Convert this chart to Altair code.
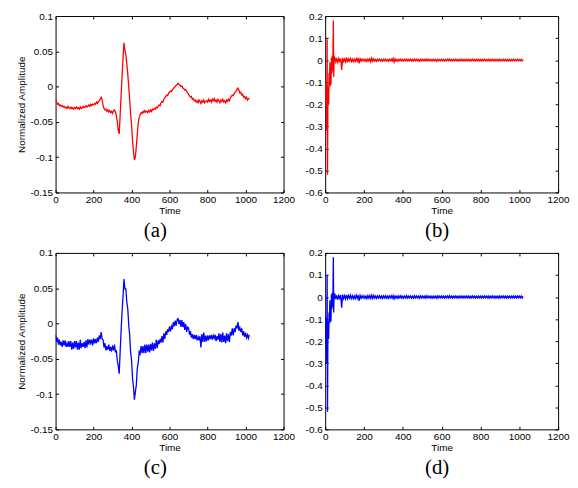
import altair as alt
import pandas as pd

# ---------------- data (amplitudes in thousandths) ----------------
time_ac = list(range(0, 1021, 5))

amp_a_milli = [
    -19, -22, -25, -24, -27, -26, -28, -27, -29, -28,
    -30, -29, -31, -28, -30, -31, -29, -31, -30, -32,
    -30, -31, -29, -31, -30, -32, -29, -31, -30, -28,
    -30, -29, -27, -29, -28, -26, -28, -25, -27, -25,
    -26, -24, -25, -22, -24, -21, -20, -18, -15, -19,
    -27, -31, -33, -32, -35, -33, -36, -34, -37, -35,
    -38, -34, -33, -36, -41, -50, -62, -67, -40, -12,
    15, 40, 62, 52, 45, 32, 18, 0, -18, -38,
    -55, -75, -92, -104, -100, -85, -68, -52, -44, -40,
    -37, -38, -35, -37, -34, -36, -35, -37, -34, -36,
    -33, -35, -32, -33, -31, -32, -29, -30, -28, -26,
    -27, -23, -21, -22, -18, -16, -14, -12, -13, -9,
    -8, -6, -7, -4, -3, -1, 0, 2, 3, 5,
    3, 2, 0, 1, -2, -3, -5, -4, -7, -9,
    -11, -13, -15, -14, -18, -17, -20, -19, -22, -20,
    -23, -19, -21, -24, -20, -22, -19, -23, -21, -20,
    -22, -18, -21, -19, -22, -18, -20, -17, -21, -19,
    -22, -18, -20, -23, -19, -21, -18, -22, -20, -23,
    -19, -21, -18, -20, -16, -14, -12, -13, -10, -8,
    -7, -4, -2, -5, -9, -8, -12, -11, -15, -14,
    -17, -15, -19, -17, -18,
]

amp_c_milli = [
    -16, -26, -20, -30, -23, -31, -26, -33, -24, -31,
    -24, -33, -28, -33, -25, -33, -25, -37, -27, -36,
    -25, -34, -25, -37, -27, -37, -23, -35, -28, -33,
    -26, -35, -24, -34, -22, -30, -23, -28, -23, -31,
    -21, -28, -22, -28, -20, -26, -17, -22, -12, -22,
    -23, -34, -28, -38, -32, -37, -30, -39, -33, -38,
    -33, -38, -30, -40, -39, -53, -60, -71, -39, -10,
    17, 38, 63, 49, 49, 30, 21, -2, -16, -41,
    -52, -77, -90, -108, -97, -87, -64, -55, -40, -43,
    -32, -42, -32, -42, -30, -42, -30, -40, -30, -41,
    -29, -38, -27, -39, -28, -36, -23, -35, -24, -29,
    -22, -27, -18, -27, -14, -22, -11, -16, -8, -12,
    -4, -11, -4, -8, 2, -4, 4, -3, 6, 7,
    -1, 5, -5, 5, -5, 2, -9, -1, -12, -5,
    -6, -16, -11, -20, -15, -22, -16, -22, -16, -24,
    -19, -24, -18, -34, -15, -26, -13, -26, -17, -25,
    -17, -24, -17, -22, -16, -23, -17, -21, -16, -25,
    -18, -23, -14, -26, -15, -27, -13, -26, -17, -28,
    -14, -25, -15, -26, -12, -17, -7, -17, -7, -12,
    -3, -7, 2, -10, -6, -12, -7, -17, -11, -19,
    -13, -20, -16, -21, -16,
]

time_bd = list(range(0, 50, 2)) + list(range(50, 1021, 5))

amp_b_milli = [
    -150, -100, -210, -120, -320, 95, -520, -190, -120, -200,
    -60, -115, -10, -120, -40, -110, 10, -60, 20, -50,
    15, 180, -75, 20, -5,
    12, -8, 6, -10, 8, -5, 7, -45, 10, -6,
    5, -8, 12, -10, 6, -4, 8, -6, 5, -7,
    4, -6, 7, -5, 10, -15, 6, -4, 5, -3,
    4, -5, 3, -6, 5, -4, 6, -8, 9, -5,
    6, -4, 3, -5, 4, -3, 5, -4, 3, -5,
    4, -3, 5, -4, 3, -5, 4, -3, 5, -4,
    8, -9, 6, -4, 3, -5, 4, -3, 5, -4,
    3, -4, 4, -3, 5, -4, 3, -3, 4, -4,
    3, -4, 5, -3, 4, -3, 3, -5, 4, -3,
    4, -3, 3, -4, 5, -3, 4, -3, 3, -4,
    3, -4, 4, -3, 3, -5, 4, -3, 3, -3,
    4, -3, 3, -4, 3, -3, 4, -3, 5, -3,
    3, -4, 3, -3, 4, -3, 3, -4, 3, -3,
    4, -3, 3, -4, 3, -3, 4, -3, 3, -4,
    3, -3, 4, -3, 3, -4, 3, -3, 4, -3,
    3, -4, 3, -3, 4, -3, 3, -3, 4, -4,
    3, -3, 4, -3, 3, -4, 3, -3, 3, -4,
    4, -3, 3, -3, 4, -3, 3, -4, 3, -3,
    3, -4, 3, -3, 4, -3, 3, -3, 4, -3,
    3, -3, 4, -3, 2,
]

amp_d_milli = [
    -170, -90, -200, -130, -300, 100, -520, -180, -110, -190,
    -70, -115, -15, -115, -35, -110, 12, -55, 18, -45,
    12, 180, -70, 18, -8,
    14, -10, 8, -12, 7, -6, 9, -48, 11, -7,
    6, -9, 10, -8, 7, -5, 9, -7, 6, -8,
    5, -7, 8, -6, 9, -18, 7, -5, 6, -4,
    5, -6, 4, -7, 6, -5, 7, -6, 8, -6,
    7, -5, 4, -6, 5, -4, 6, -5, 4, -6,
    5, -4, 6, -5, 4, -6, 5, -4, 6, -5,
    7, -8, 5, -5, 4, -6, 5, -4, 6, -5,
    4, -5, 5, -4, 6, -5, 4, -4, 5, -5,
    4, -5, 6, -4, 5, -4, 4, -6, 5, -4,
    5, -4, 4, -5, 6, -4, 5, -4, 4, -5,
    4, -5, 5, -4, 4, -6, 5, -4, 4, -4,
    5, -4, 4, -5, 4, -4, 5, -4, 6, -4,
    4, -5, 4, -4, 5, -4, 4, -5, 4, -4,
    5, -4, 4, -5, 4, -4, 5, -4, 4, -5,
    4, -4, 5, -4, 4, -5, 4, -4, 5, -4,
    4, -5, 4, -4, 5, -4, 4, -4, 5, -5,
    4, -4, 5, -4, 4, -5, 4, -4, 4, -5,
    5, -4, 4, -4, 5, -4, 4, -5, 4, -4,
    4, -5, 4, -4, 5, -4, 4, -4, 5, -4,
    4, -4, 5, -4, 3,
]

x_ticks = [0, 200, 400, 600, 800, 1000, 1200]
y_ticks_ac = [-0.15, -0.1, -0.05, 0, 0.05, 0.1]
y_ticks_bd = [-0.6, -0.5, -0.4, -0.3, -0.2, -0.1, 0, 0.1, 0.2]
captions = ["(a)", "(b)", "(c)", "(d)"]

SANS = "Liberation Sans"
SERIF = "Liberation Serif"
INWARD = {"expr": "-3"}


def panel(times, milli, color, yticks, ydomain, ytitle, caption, width, height):
    df = pd.DataFrame({"Time": times, "Amp": [v / 1000 for v in milli]})
    base = alt.Chart(df)
    xs = alt.Scale(domain=[0, 1200], nice=False, zero=False)
    ys = alt.Scale(domain=ydomain, nice=False, zero=False)
    main = base.mark_line(color=color, strokeWidth=1.3, clip=True).encode(
        x=alt.X("Time:Q", scale=xs, title="Time",
                axis=alt.Axis(orient="bottom", values=x_ticks, labelExpr="datum.value + ''",
                              tickSize=INWARD, labelPadding=5, titlePadding=1,
                              labelFlush=False, labelOverlap=False, domain=False)),
        y=alt.Y("Amp:Q", scale=ys, title=ytitle,
                axis=alt.Axis(orient="left", values=yticks, labelExpr="datum.value + ''",
                              tickSize=INWARD, labelPadding=6, titlePadding=4,
                              labelFlush=False, labelOverlap=False, domain=False)),
    )
    ghost = base.mark_line(opacity=0).encode(
        x=alt.X("Time:Q", scale=xs, title=None,
                axis=alt.Axis(orient="top", values=x_ticks, labels=False,
                              tickSize=INWARD, domain=False)),
        y=alt.Y("Amp:Q", scale=ys, title=None,
                axis=alt.Axis(orient="right", values=yticks, labels=False,
                              tickSize=INWARD, domain=False)),
    )
    return alt.layer(main, ghost).resolve_axis(x="independent", y="independent").properties(
        width=width, height=height,
        title=alt.TitleParams(caption, orient="bottom", anchor="middle", frame="bounds",
                              font=SERIF, fontSize=21, fontWeight="normal", color="black",
                              offset=5),
    )


H = 178
pa = panel(time_ac, amp_a_milli, "#ff0000", y_ticks_ac, [-0.15, 0.1], "Normalized Amplitude", captions[0], 230, H)
pb = panel(time_bd, amp_b_milli, "#ff0000", y_ticks_bd, [-0.6, 0.2], None, captions[1], 235, H)
pc = panel(time_ac, amp_c_milli, "#0000ff", y_ticks_ac, [-0.15, 0.1], "Normalized Amplitude", captions[2], 230, H)
pd_ = panel(time_bd, amp_d_milli, "#0000ff", y_ticks_bd, [-0.6, 0.2], None, captions[3], 235, H)

chart = alt.vconcat(
    alt.hconcat(pa, pb, spacing=9),
    alt.hconcat(pc, pd_, spacing=9),
    spacing=5,
).properties(
    padding={"left": 7, "top": 0, "right": 0, "bottom": 0},
    background="white",
).configure_view(
    stroke="black", strokeWidth=1, fill="white",
).configure_axis(
    labelFont=SANS, labelFontSize=10, labelColor="black",
    titleFont=SANS, titleFontSize=10, titleFontWeight="normal", titleColor="black",
    tickColor="black", tickWidth=1, grid=False,
)

chart.save("out.html", embed_options={"renderer": "svg", "actions": False})
